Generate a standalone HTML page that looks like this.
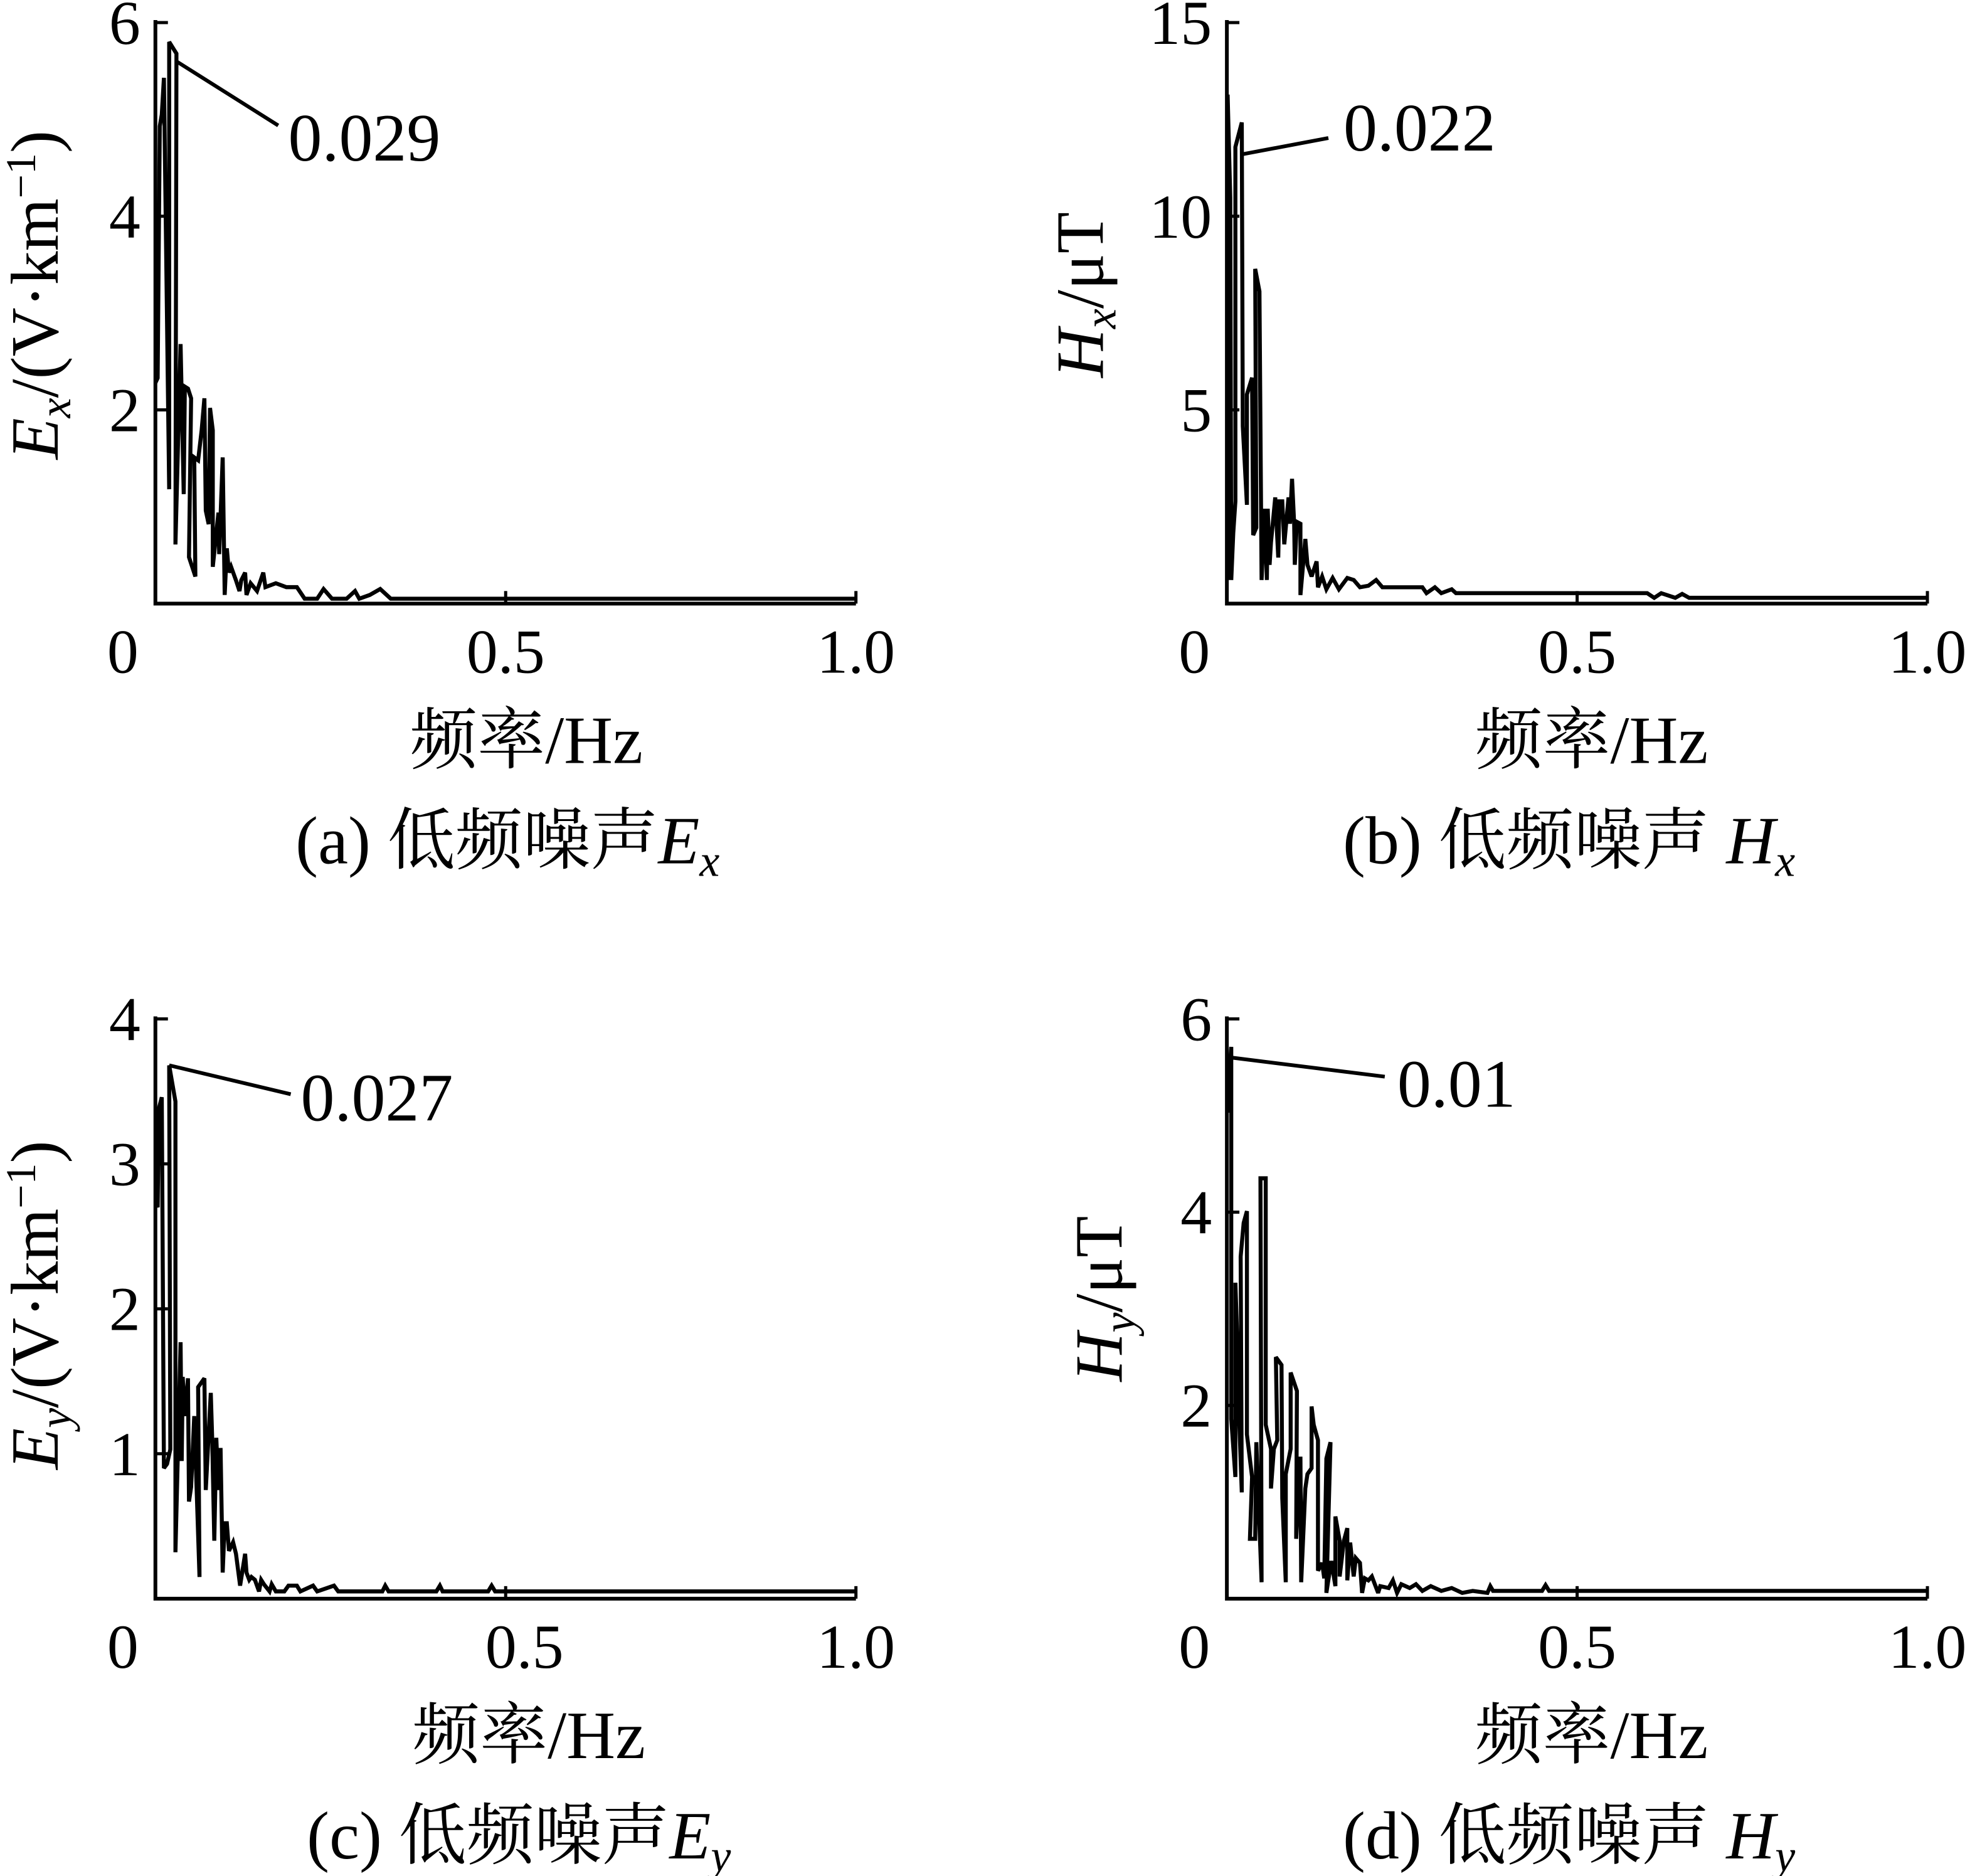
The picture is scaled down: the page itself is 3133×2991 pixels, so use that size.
<!DOCTYPE html>
<html><head><meta charset="utf-8">
<style>
html,body{margin:0;padding:0;background:#fff;}
svg{display:block;}
text{font-family:"Liberation Serif","Noto Serif CJK SC","Noto Sans CJK SC",serif;fill:#000;}
</style></head>
<body>
<svg id="fig" xmlns="http://www.w3.org/2000/svg" width="3133" height="2991" viewBox="0 0 1568 1495" preserveAspectRatio="none">
<rect x="0" y="0" width="1568" height="1495" fill="#fff"/>
</svg>
<script>
// Panel (a) Ex
const freqA=[0,0.0033,0.0063,0.0092,0.0122,0.0197,0.0197,0.030,0.0286,0.036,0.0405,0.042,0.0465,0.051,0.048,0.057,0.0555,0.061,0.066,0.070,0.072,0.076,0.078,0.082,0.082,0.090,0.091,0.096,0.099,0.102,0.105,0.108,0.115,0.120,0.1225,0.128,0.130,0.136,0.145,0.154,0.157,0.172,0.187,0.202,0.213,0.231,0.240,0.252,0.273,0.285,0.291,0.306,0.321,0.336,1.0];
const ampA=[2.28,2.33,4.93,5.05,5.43,1.18,5.80,5.68,0.61,2.68,1.13,2.24,2.22,2.12,0.48,0.28,1.51,1.48,1.79,2.12,0.96,0.82,2.02,1.79,0.38,0.94,0.51,1.51,0.09,0.57,0.32,0.38,0.24,0.13,0.24,0.32,0.09,0.21,0.13,0.32,0.17,0.21,0.17,0.17,0.05,0.05,0.15,0.05,0.05,0.13,0.05,0.09,0.15,0.05,0.05];
// Panel (b) Hx
const freqB=[0.001,0.001,0.0048,0.0063,0.0092,0.0122,0.0122,0.0212,0.0227,0.0286,0.0286,0.036,0.0376,0.042,0.0405,0.0465,0.0495,0.054,0.057,0.0584,0.061,0.063,0.069,0.0733,0.075,0.079,0.082,0.088,0.090,0.093,0.096,0.097,0.100,0.105,0.105,0.112,0.115,0.121,0.128,0.130,0.136,0.142,0.151,0.160,0.172,0.181,0.190,0.202,0.213,0.222,0.279,0.285,0.297,0.306,0.321,0.327,0.60,0.61,0.62,0.64,0.65,0.66,1.0];
const ampB=[0.61,13.14,10.48,0.61,1.82,2.64,11.79,12.42,4.58,2.55,5.40,5.83,1.77,1.96,8.64,8.06,0.61,2.45,0.61,2.45,1.00,1.58,2.74,1.19,2.64,2.64,1.53,2.74,2.06,3.22,2.06,1.00,2.11,2.06,0.22,1.67,1.00,0.70,1.09,0.42,0.70,0.37,0.66,0.37,0.66,0.61,0.42,0.46,0.61,0.42,0.42,0.27,0.42,0.27,0.37,0.27,0.27,0.15,0.27,0.15,0.25,0.15,0.15];
// Panel (c) Ey
const freqC=[0,0.0033,0.0048,0.0092,0.0122,0.0167,0.0212,0.0197,0.0286,0.0286,0.036,0.0376,0.039,0.042,0.0465,0.048,0.051,0.0555,0.063,0.061,0.070,0.072,0.079,0.081,0.084,0.087,0.090,0.093,0.096,0.099,0.102,0.105,0.111,0.115,0.121,0.128,0.130,0.134,0.137,0.142,0.148,0.151,0.155,0.163,0.166,0.172,0.184,0.190,0.202,0.207,0.225,0.231,0.255,0.261,0.324,0.328,0.333,0.401,0.406,0.410,0.475,0.48,0.485,1.0];
const ampC=[2.74,2.70,3.38,3.46,0.90,0.93,1.03,3.68,3.43,0.32,1.77,0.95,1.53,1.26,1.52,0.67,0.77,1.26,0.15,1.46,1.52,0.75,1.42,1.11,0.40,1.11,0.75,1.04,0.18,0.52,0.52,0.33,0.39,0.31,0.09,0.31,0.18,0.13,0.15,0.13,0.05,0.13,0.10,0.05,0.10,0.05,0.05,0.09,0.09,0.05,0.09,0.05,0.09,0.05,0.05,0.09,0.05,0.05,0.09,0.05,0.05,0.09,0.05,0.05];
// Panel (d) Hy
const freqD=[0.001,0.0033,0.0063,0.0063,0.0122,0.0122,0.0152,0.0167,0.0212,0.0197,0.024,0.0286,0.0286,0.036,0.033,0.0405,0.042,0.0495,0.048,0.0555,0.0555,0.063,0.063,0.067,0.072,0.070,0.078,0.079,0.084,0.084,0.091,0.091,0.100,0.099,0.105,0.106,0.112,0.115,0.121,0.121,0.124,0.130,0.130,0.136,0.139,0.142,0.148,0.142,0.149,0.155,0.155,0.161,0.161,0.167,0.172,0.172,0.176,0.181,0.184,0.190,0.193,0.197,0.202,0.207,0.216,0.219,0.231,0.237,0.243,0.249,0.261,0.270,0.279,0.291,0.306,0.321,0.336,0.351,0.372,0.376,0.380,0.45,0.455,0.46,1.0];
const ampD=[5.03,5.42,5.71,1.86,1.26,3.27,2.59,2.05,1.10,3.54,3.89,4.01,1.70,1.26,0.62,0.62,1.62,0.17,4.35,4.35,1.80,1.55,1.14,1.55,1.64,2.50,2.42,1.04,0.17,1.29,1.55,2.34,2.15,0.62,1.47,0.17,1.14,1.29,1.35,1.99,1.80,1.64,0.29,0.37,0.21,1.45,1.62,0.06,0.39,0.13,0.85,0.60,0.23,0.60,0.73,0.19,0.58,0.23,0.42,0.37,0.06,0.21,0.19,0.23,0.06,0.13,0.11,0.19,0.06,0.15,0.11,0.15,0.08,0.13,0.08,0.11,0.06,0.08,0.06,0.13,0.08,0.08,0.14,0.08,0.08];

const xTicks=[0,0.5,1.0];
const xTickLabels=["0","0.5","1.0"];
const yTicksA=[2,4,6], yTicksB=[5,10,15], yTicksC=[1,2,3,4], yTicksD=[2,4,6];

const NS="http://www.w3.org/2000/svg";
const svg=document.getElementById('fig');
function mk(tag,attrs,parent){const e=document.createElementNS(NS,tag);for(const k in attrs)e.setAttribute(k,attrs[k]);(parent||svg).appendChild(e);return e;}

function panel(p){
  const g=mk('g',{});
  
  
  const sx=f=>p.x0+f*(p.x1-p.x0);
  const sy=v=>p.y0-v*(p.y0-p.yTop)/p.yMax;
  const ax=mk('path',{d:`M${p.x0} ${p.yTop-2} L${p.x0} ${p.y0} L${p.x1} ${p.y0}`,fill:'none',stroke:'#000','stroke-width':3},g);
  
  
  xTicks.forEach((t,i)=>{
    if(t>0){const tk=mk('line',{x1:sx(t),x2:sx(t),y1:p.y0,y2:p.y0-10,stroke:'#000','stroke-width':2.5},g);
      
      }
    const tl=mk('text',{x:sx(t)+(t===0?-26:(p.id==='c'&&t===0.5?15:0)),y:p.y0+55,'font-size':50,'text-anchor':'middle'},g);
    tl.textContent=xTickLabels[i];
    
    
  });
  p.yTicks.forEach(t=>{
    const tk=mk('line',{x1:p.x0,x2:p.x0+10,y1:sy(t),y2:sy(t),stroke:'#000','stroke-width':2.5},g);
    
    
    const tl=mk('text',{x:p.x0-12,y:sy(t)+17,'font-size':50,'text-anchor':'end'},g);
    tl.textContent=String(t);
    
    
  });
  const pts=p.freq.map((f,i)=>sx(f).toFixed(1)+','+sy(p.amp[i]).toFixed(1)).join(' ');
  const pl=mk('polyline',{points:pts,fill:'none',stroke:'#000','stroke-width':3.2,'stroke-linejoin':'miter','stroke-miterlimit':3},g);
  
  
  const ld=mk('line',{x1:sx(p.ann.f),y1:sy(p.ann.v),x2:p.ann.lx,y2:p.ann.ly,stroke:'#000','stroke-width':3},g);
  
  
  const at=mk('text',{x:p.ann.tx,y:p.ann.ty,'font-size':54},g);
  at.textContent=p.ann.label;
  
  
  const xt=mk('text',{x:p.xtX,y:p.y0+127,'font-size':54,'text-anchor':'middle'},g);
  xt.textContent='频率/Hz';
  
  
  const cp=mk('text',{x:p.capX,y:p.y0+207,'font-size':54,'text-anchor':'middle'},g);
  cp.innerHTML=p.cap;
  
  
  const yt=mk('text',{transform:`translate(${p.ytX},${p.ytY}) rotate(-90)`,'font-size':54,'text-anchor':'middle'},g);
  yt.innerHTML=p.yTitle;
  
  
}

const EUNIT='/(V·km<tspan dy="-18" font-size="34">−1</tspan><tspan dy="18">)</tspan>';
panel({id:'a',x0:124,x1:683,y0:481,yTop:18,yMax:6,yTicks:yTicksA,freq:freqA,amp:ampA,
  ann:{f:0.03,v:5.6,lx:222,ly:100,tx:230,ty:128,label:'0.029'},xtX:420,capX:405,
  cap:'(a) 低频噪声<tspan font-style="italic">E</tspan><tspan font-style="italic" font-size="36" dy="10">x</tspan>',
  ytX:46,ytY:235,yTitle:'<tspan font-style="italic">E</tspan><tspan font-style="italic" font-size="36" dy="10">x</tspan><tspan dy="-10">'+EUNIT+'</tspan>'});
panel({id:'b',x0:979,x1:1538,y0:481,yTop:18,yMax:15,yTicks:yTicksB,freq:freqB,amp:ampB,
  ann:{f:0.022,v:11.6,lx:1060,ly:110,tx:1072,ty:120,label:'0.022'},xtX:1270,capX:1252,
  cap:'(b) 低频噪声 <tspan font-style="italic">H</tspan><tspan font-style="italic" font-size="36" dy="10">x</tspan>',
  ytX:880,ytY:235,yTitle:'<tspan font-style="italic">H</tspan><tspan font-style="italic" font-size="36" dy="10">x</tspan><tspan dy="-10">/μT</tspan>'});
panel({id:'c',x0:124,x1:683,y0:1274,yTop:812,yMax:4,yTicks:yTicksC,freq:freqC,amp:ampC,
  ann:{f:0.0197,v:3.68,lx:232,ly:872,tx:240,ty:893,label:'0.027'},xtX:422,capX:414,
  cap:'(c) 低频噪声<tspan font-style="italic">E</tspan><tspan font-style="italic" font-size="36" dy="10">y</tspan>',
  ytX:46,ytY:1040,yTitle:'<tspan font-style="italic">E</tspan><tspan font-style="italic" font-size="36" dy="10">y</tspan><tspan dy="-10">'+EUNIT+'</tspan>'});
panel({id:'d',x0:979,x1:1538,y0:1274,yTop:812,yMax:6,yTicks:yTicksD,freq:freqD,amp:ampD,
  ann:{f:0.0063,v:5.6,lx:1105,ly:858,tx:1115,ty:882,label:'0.01'},xtX:1270,capX:1252,
  cap:'(d) 低频噪声 <tspan font-style="italic">H</tspan><tspan font-style="italic" font-size="36" dy="10">y</tspan>',
  ytX:895,ytY:1035,yTitle:'<tspan font-style="italic">H</tspan><tspan font-style="italic" font-size="36" dy="10">y</tspan><tspan dy="-10">/μT</tspan>'});
</script>
</body></html>
